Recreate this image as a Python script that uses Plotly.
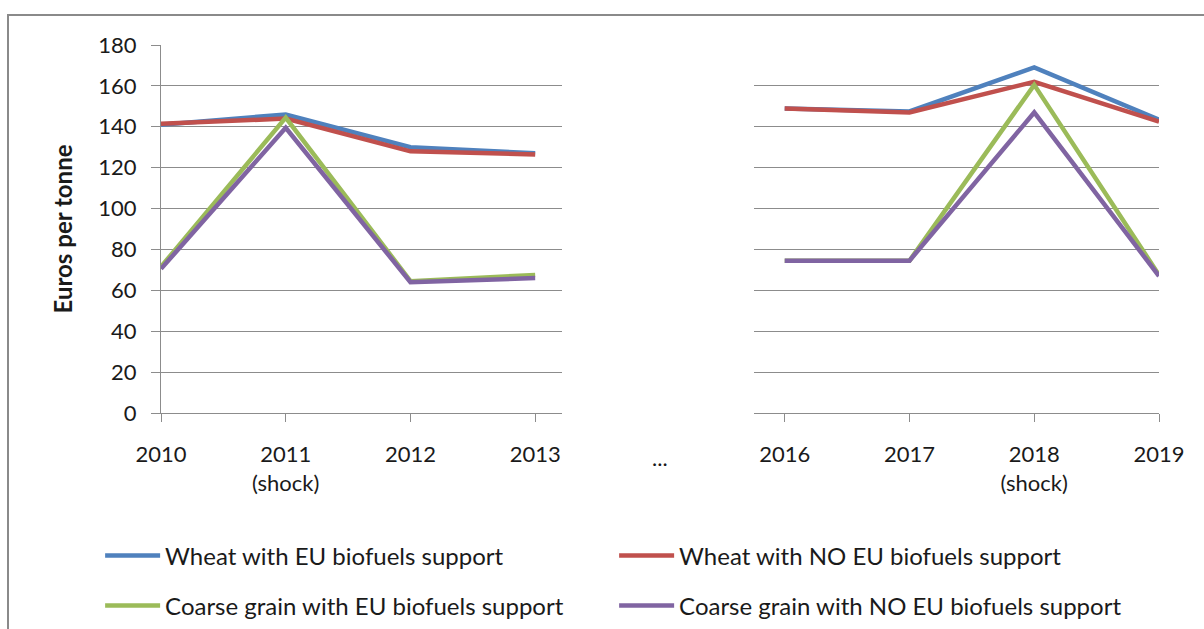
import plotly.graph_objects as go

# Category axis: two periods separated by a gap ("...")
categories = ["2010", "2011<br>(shock)", "2012", "2013", "...",
              "2016", "2017", "2018<br>(shock)", "2019"]

series_names = [
    "Wheat with EU biofuels support",
    "Wheat with NO EU biofuels support",
    "Coarse grain with EU biofuels support",
    "Coarse grain with NO EU biofuels support",
]

wheat_eu = [141, 146, 130, 127, None, 149, 147.5, 169, 143.5]
wheat_no_eu = [141.5, 144, 128, 126.5, None, 149, 147, 162, 142.5]
coarse_eu = [71.5, 144.5, 64.5, 67.5, None, 74.5, 74.5, 160.5, 67.5]
coarse_no_eu = [70.5, 139.5, 64, 66, None, 74.5, 74.5, 147, 67]

colors = ["#4F81BD", "#C0504D", "#9BBB59", "#8064A2"]
legend_ids = ["legend", "legend", "legend2", "legend2"]

FONT = "Lato"
TEXT = "#1a1a1a"
GRID = "#8c8c8c"

values = [wheat_eu, wheat_no_eu, coarse_eu, coarse_no_eu]
positions = list(range(len(categories)))
left_idx = [0, 1, 2, 3]
right_idx = [5, 6, 7, 8]

fig = go.Figure()
for name, vals, col, leg in zip(series_names, values, colors, legend_ids):
    for idx, (xa, ya), show in ((left_idx, ("x", "y"), True),
                                (right_idx, ("x2", "y2"), False)):
        fig.add_trace(go.Scatter(
            x=[positions[i] for i in idx],
            y=[vals[i] for i in idx],
            mode="lines",
            name=name,
            legendgroup=name,
            legend=leg,
            showlegend=show,
            line=dict(color=col, width=4.5),
            xaxis=xa, yaxis=ya,
            hoverinfo="skip",
        ))

axis_font = dict(family=FONT, size=22, color=TEXT)
legend_font = dict(family=FONT, size=24, color=TEXT)

fig.update_layout(
    width=1204, height=629,
    margin=dict(l=161, r=45, t=45, b=216, autoexpand=False),
    paper_bgcolor="white", plot_bgcolor="white",
    font=dict(family=FONT, size=22, color=TEXT),
    xaxis=dict(
        domain=[0, 0.4018], range=[0, 3.215],
        tickvals=left_idx, ticktext=[categories[i] for i in left_idx],
        showgrid=False, zeroline=False,
        showline=True, linecolor=GRID, linewidth=1,
        ticks="outside", ticklen=8, tickcolor=GRID, tickwidth=1,
        tickfont=axis_font, ticklabelstandoff=14,
        anchor="y",
    ),
    xaxis2=dict(
        domain=[0.5942, 1], range=[4.754, 8],
        tickvals=right_idx, ticktext=[categories[i] for i in right_idx],
        showgrid=False, zeroline=False,
        showline=True, linecolor=GRID, linewidth=1,
        ticks="outside", ticklen=8, tickcolor=GRID, tickwidth=1,
        tickfont=axis_font, ticklabelstandoff=14,
        anchor="y2",
    ),
    yaxis=dict(
        range=[0, 180], dtick=20, tick0=0,
        showgrid=True, gridcolor=GRID, gridwidth=1, zeroline=False,
        showline=True, linecolor=GRID, linewidth=1,
        ticks="outside", ticklen=9, tickcolor=GRID, tickwidth=1,
        tickfont=axis_font, ticklabelstandoff=10,
        title=dict(text="<b>Euros per tonne</b>", font=dict(family=FONT, size=24, color=TEXT),
                   standoff=18),
        anchor="x",
    ),
    yaxis2=dict(
        range=[0, 180], dtick=20, tick0=0, matches="y",
        showgrid=True, gridcolor=GRID, gridwidth=1, zeroline=False,
        showline=False, ticks="", showticklabels=False,
        anchor="x2",
    ),
    legend=dict(
        orientation="h", x=-0.061, xanchor="left", y=-0.3886, yanchor="middle",
        entrywidth=444, entrywidthmode="pixels", itemwidth=55,
        font=legend_font, bgcolor="rgba(0,0,0,0)",
        traceorder="normal",
    ),
    legend2=dict(
        orientation="h", x=-0.061, xanchor="left", y=-0.5245, yanchor="middle",
        entrywidth=444, entrywidthmode="pixels", itemwidth=55,
        font=legend_font, bgcolor="rgba(0,0,0,0)",
        traceorder="normal",
    ),
    showlegend=True,
)

# gap marker between the two periods
fig.add_annotation(
    x=0.5, xref="paper", y=-0.12, yref="paper", yanchor="middle",
    text=categories[4], showarrow=False, font=axis_font,
)

# chart frame
fig.add_shape(
    type="rect", xref="paper", yref="paper",
    x0=-0.1533, x1=1.1, y0=-0.7, y1=1.0815,
    line=dict(color="#8a8a8a", width=2), fillcolor="rgba(0,0,0,0)", layer="below",
)

fig.write_html("out.html")
